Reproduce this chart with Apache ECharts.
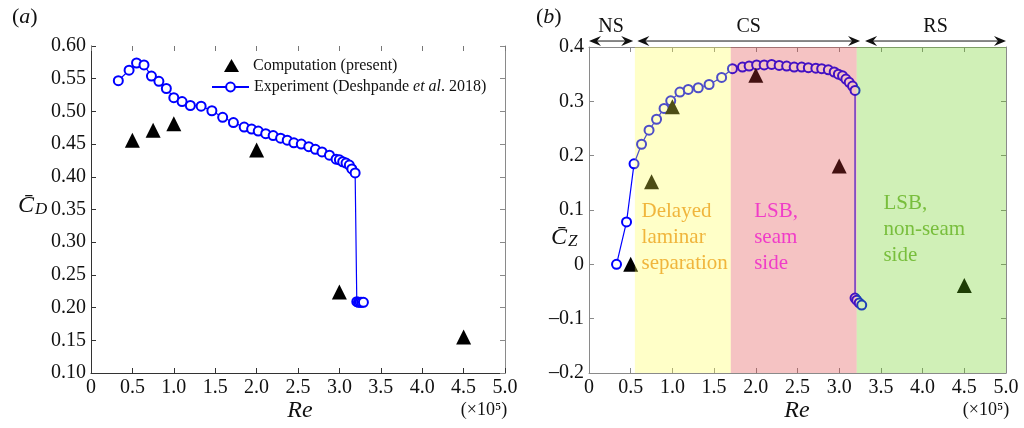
<!DOCTYPE html>
<html><head><meta charset="utf-8">
<script src="https://cdn.jsdelivr.net/npm/echarts@6/dist/echarts.min.js"></script>
<style>html,body{margin:0;padding:0;background:#fff}#c{width:1024px;height:428px}</style>
</head><body><div id="c"></div>
<script>
// ---------- data ----------
const reTicks = [0,0.5,1.0,1.5,2.0,2.5,3.0,3.5,4.0,4.5,5.0];
const cdTicks = [0.10,0.15,0.20,0.25,0.30,0.35,0.40,0.45,0.50,0.55,0.60];
const czTicks = [-0.2,-0.1,0,0.1,0.2,0.3,0.4];

const compRe = [0.5,0.75,1.0,2.0,3.0,4.5];
const compCd = [0.456,0.471,0.481,0.441,0.224,0.155];
const compCz = [0.000,0.152,0.290,0.348,0.181,-0.039];

const expCdRe = [0.33,0.46,0.55,0.64,0.73,0.82,0.91,1.00,1.10,1.20,1.33,1.46,1.59,1.72,1.85,1.94,2.02,2.11,2.20,2.29,2.37,2.45,2.54,2.63,2.71,2.79,2.88,2.96,3.00,3.04,3.08,3.12,3.15,3.19,3.21,3.23,3.25,3.27,3.29];
const expCd   = [0.547,0.563,0.574,0.571,0.554,0.546,0.535,0.521,0.515,0.509,0.508,0.501,0.491,0.483,0.476,0.473,0.470,0.466,0.463,0.459,0.456,0.452,0.450,0.446,0.442,0.438,0.433,0.427,0.426,0.423,0.421,0.418,0.412,0.406,0.209,0.208,0.208,0.208,0.208];

const expCzRe = [0.33,0.45,0.54,0.63,0.72,0.81,0.90,0.98,1.09,1.19,1.31,1.44,1.59,1.72,1.84,1.92,2.01,2.10,2.19,2.28,2.37,2.46,2.55,2.63,2.72,2.79,2.87,2.94,2.99,3.04,3.08,3.12,3.16,3.19,3.19,3.21,3.24,3.27];
const expCz   = [0.000,0.078,0.185,0.221,0.247,0.267,0.287,0.301,0.317,0.322,0.325,0.331,0.344,0.360,0.363,0.365,0.367,0.367,0.368,0.366,0.365,0.363,0.363,0.362,0.361,0.360,0.358,0.354,0.350,0.347,0.341,0.335,0.328,0.320,-0.062,-0.066,-0.071,-0.075];

// regime bands (Re) and regime arrows
const bandStart = [0.55,1.70,3.21];
const bandEnd   = [1.70,3.21,5.0];
const regimeNames = ['NS','CS','RS'];
const regimeStart = [0.0,0.58,3.31];
const regimeEnd   = [0.53,3.25,5.0];

// region annotations (anchor in data units: Re, Cz)
const noteText = ['Delayed\nlaminar\nseparation','LSB,\nseam\nside','LSB,\nnon-seam\nside'];
const noteRe = [0.63,1.98,3.53];
const noteCz = [0.122,0.122,0.136];

const compName = 'Computation (present)';
const expName = 'Experiment (Deshpande et al. 2018)';

// ---------- styles ----------
const FONT = 'Liberation Serif';
const bandColors = ['rgba(255,255,72,0.3)','rgba(221,55,55,0.3)','rgba(98,205,18,0.3)'];
const noteColors = ['#F0B53C','#F03CC8','#78BE3C'];

const fmtX = v => Math.abs(v) < 1e-9 ? '0' : v.toFixed(1);
const fmtCd = v => v.toFixed(2);
const fmtCz = v => Math.abs(v) < 1e-9 ? '0' : (v < 0 ? '\u2013' + Math.abs(v).toFixed(1) : v.toFixed(1));

function xAx(grid, pos, show, lineColor, tickColor) {
  return {
    type: 'value', gridIndex: grid, position: pos, min: 0, max: 5, interval: 0.5,
    axisLine: { show: true, onZero: false, lineStyle: { color: lineColor, width: 1 } },
    axisTick: { show: true, inside: true, length: 5, lineStyle: { color: tickColor } },
    axisLabel: { show: show, formatter: fmtX, fontFamily: FONT, fontSize: 20, color: '#111', margin: 5 },
    splitLine: { show: false }
  };
}
function yAx(grid, pos, show, min, max, interval, fmt, lineColor, tickColor) {
  return {
    type: 'value', gridIndex: grid, position: pos, min: min, max: max, interval: interval,
    axisLine: { show: true, onZero: false, lineStyle: { color: lineColor, width: 1 } },
    axisTick: { show: true, inside: true, length: 5, lineStyle: { color: tickColor } },
    axisLabel: { show: show, formatter: fmt, fontFamily: FONT, fontSize: 20, color: '#111', margin: 5 },
    splitLine: { show: false }
  };
}

const chart = echarts.init(document.getElementById('c'), null, { renderer: 'canvas' });

const option = {
  animation: false,
  backgroundColor: '#fff',
  grid: [
    { left: 91, right: 519, top: 46, bottom: 55, outerBoundsMode: 'none' },
    { left: 589, right: 18, top: 47, bottom: 55, outerBoundsMode: 'none' }
  ],
  xAxis: [
    xAx(0, 'bottom', true, '#333', '#333'),
    xAx(0, 'top', false, 'rgba(0,0,0,0)', '#777'),
    xAx(1, 'bottom', true, '#8a8a8a', '#8a8a8a'),
    xAx(1, 'top', false, '#8a8a8a', '#8a8a8a')
  ],
  yAxis: [
    yAx(0, 'left', true, 0.1, 0.6, 0.05, fmtCd, '#333', '#333'),
    yAx(0, 'right', false, 0.1, 0.6, 0.05, fmtCd, '#8a8a8a', '#8a8a8a'),
    yAx(1, 'left', true, -0.2, 0.4, 0.1, fmtCz, '#8a8a8a', '#8a8a8a'),
    yAx(1, 'right', false, -0.2, 0.4, 0.1, fmtCz, '#8a8a8a', '#8a8a8a')
  ],
  legend: [
    { left: 206, top: 53, orient: 'vertical', itemWidth: 37, itemHeight: 14,
      data: [{ name: compName, icon: 'path://M0 0 M37 14 M13 13 L20.5 0 L28 13 Z' }],
      textStyle: { fontFamily: FONT, fontSize: 16, color: '#111' } },
    { left: 206, top: 74, orient: 'vertical', itemWidth: 37, itemHeight: 11,
      data: [expName],
      textStyle: { fontFamily: FONT, fontSize: 16, color: '#111',
        rich: { i: { fontStyle: 'italic', fontFamily: FONT, fontSize: 16, color: '#111' } } },
      formatter: name => 'Experiment (Deshpande {i|et al}. 2018)' }
  ],
  series: [
    { name: expName, type: 'line', xAxisIndex: 0, yAxisIndex: 0, z: 3,
      data: expCdRe.map((r, i) => [r, expCd[i]]),
      symbol: 'emptyCircle', symbolSize: 9, showAllSymbol: true,
      lineStyle: { color: '#0000ff', width: 1.2 },
      itemStyle: { color: '#0000ff', borderColor: '#0000ff', borderWidth: 1.2 } },
    { name: compName, type: 'scatter', xAxisIndex: 0, yAxisIndex: 0, z: 4,
      data: compRe.map((r, i) => [r, compCd[i]]),
      symbol: 'triangle', symbolSize: 15, itemStyle: { color: '#000', opacity: 1 } },
    { name: expName, type: 'line', xAxisIndex: 2, yAxisIndex: 2, z: 3,
      data: expCzRe.map((r, i) => [r, expCz[i]]),
      symbol: 'emptyCircle', symbolSize: 9, showAllSymbol: true,
      lineStyle: { color: '#0000ff', width: 1.2 },
      itemStyle: { color: '#0000ff', borderColor: '#0000ff', borderWidth: 1.2 } },
    { name: compName, type: 'scatter', xAxisIndex: 2, yAxisIndex: 2, z: 4,
      data: compRe.map((r, i) => [r, compCz[i]]),
      symbol: 'triangle', symbolSize: 15, itemStyle: { color: '#000', opacity: 1 } },
    // translucent regime bands over the data
    { type: 'custom', xAxisIndex: 2, yAxisIndex: 2, z: 10, silent: true, clip: false,
      data: bandStart.map((s, i) => [s, bandEnd[i]]),
      renderItem: (params, api) => {
        const p0 = api.coord([api.value(0), czTicks[czTicks.length - 1]]);
        const p1 = api.coord([api.value(1), czTicks[0]]);
        return { type: 'rect', shape: { x: p0[0], y: p0[1], width: p1[0] - p0[0], height: p1[1] - p0[1] },
          style: { fill: bandColors[params.dataIndex] } };
      } },
    // region annotations
    { type: 'custom', xAxisIndex: 2, yAxisIndex: 2, z: 20, silent: true, clip: false,
      data: noteRe.map((r, i) => [r, noteCz[i]]),
      renderItem: (params, api) => {
        const p = api.coord([api.value(0), api.value(1)]);
        return { type: 'text', x: p[0], y: p[1],
          style: { text: noteText[params.dataIndex], fill: noteColors[params.dataIndex],
            font: '21px "Liberation Serif"', lineHeight: 26, align: 'left', verticalAlign: 'top' } };
      } },
    // regime arrows above the panel
    { type: 'custom', xAxisIndex: 2, yAxisIndex: 2, z: 20, silent: true, clip: false,
      data: regimeStart.map((s, i) => [s, regimeEnd[i]]),
      renderItem: (params, api) => {
        const a = api.coord([api.value(0), 0.411]);
        const b = api.coord([api.value(1), 0.411]);
        const lbl = api.coord([(api.value(0) + api.value(1)) / 2, 0.437]);
        const y = a[1];
        const L = 12, H = 5, N = 8;
        return { type: 'group', children: [
          { type: 'line', shape: { x1: a[0] + 4, y1: y, x2: b[0] - 4, y2: y }, style: { stroke: '#111', lineWidth: 1 } },
          { type: 'polygon', shape: { points: [[a[0], y], [a[0] + L, y - H], [a[0] + N, y], [a[0] + L, y + H]] }, style: { fill: '#111' } },
          { type: 'polygon', shape: { points: [[b[0], y], [b[0] - L, y - H], [b[0] - N, y], [b[0] - L, y + H]] }, style: { fill: '#111' } },
          { type: 'text', x: lbl[0], y: lbl[1], style: { text: regimeNames[params.dataIndex], fill: '#111',
            font: '20px "Liberation Serif"', align: 'center', verticalAlign: 'middle' } }
        ] };
      } }
  ],
  graphic: [
    { type: 'text', left: 12, top: 6, style: { text: '({i|a})', font: '22px "Liberation Serif"', fill: '#111',
      rich: { i: { fontStyle: 'italic', fontSize: 22, fontFamily: FONT } } } },
    { type: 'text', left: 536, top: 6, style: { text: '({i|b})', font: '22px "Liberation Serif"', fill: '#111',
      rich: { i: { fontStyle: 'italic', fontSize: 22, fontFamily: FONT } } } },
    { type: 'text', left: 18, top: 194, style: { text: '{c|C\u0304}{s|D}', fill: '#111',
      rich: { c: { fontStyle: 'italic', fontSize: 24, fontFamily: FONT, verticalAlign: 'bottom' },
              s: { fontStyle: 'italic', fontSize: 17, fontFamily: FONT, padding: [10, 0, 0, 1] } } } },
    { type: 'text', left: 551, top: 226, style: { text: '{c|C\u0304}{s|Z}', fill: '#111',
      rich: { c: { fontStyle: 'italic', fontSize: 24, fontFamily: FONT, verticalAlign: 'bottom' },
              s: { fontStyle: 'italic', fontSize: 17, fontFamily: FONT, padding: [10, 0, 0, 1] } } } },
    { type: 'text', x: 300, y: 411, style: { text: 'Re', font: 'italic 24px "Liberation Serif"', fill: '#111', align: 'center', verticalAlign: 'middle' } },
    { type: 'text', x: 797, y: 411, style: { text: 'Re', font: 'italic 24px "Liberation Serif"', fill: '#111', align: 'center', verticalAlign: 'middle' } },
    { type: 'text', x: 484, y: 410, style: { text: '(\u00d710\u2075)', font: '18px "Liberation Serif"', fill: '#111', align: 'center', verticalAlign: 'middle' } },
    { type: 'text', x: 986, y: 410, style: { text: '(\u00d710\u2075)', font: '18px "Liberation Serif"', fill: '#111', align: 'center', verticalAlign: 'middle' } }
  ]
};
chart.setOption(option);
</script>
</body></html>
